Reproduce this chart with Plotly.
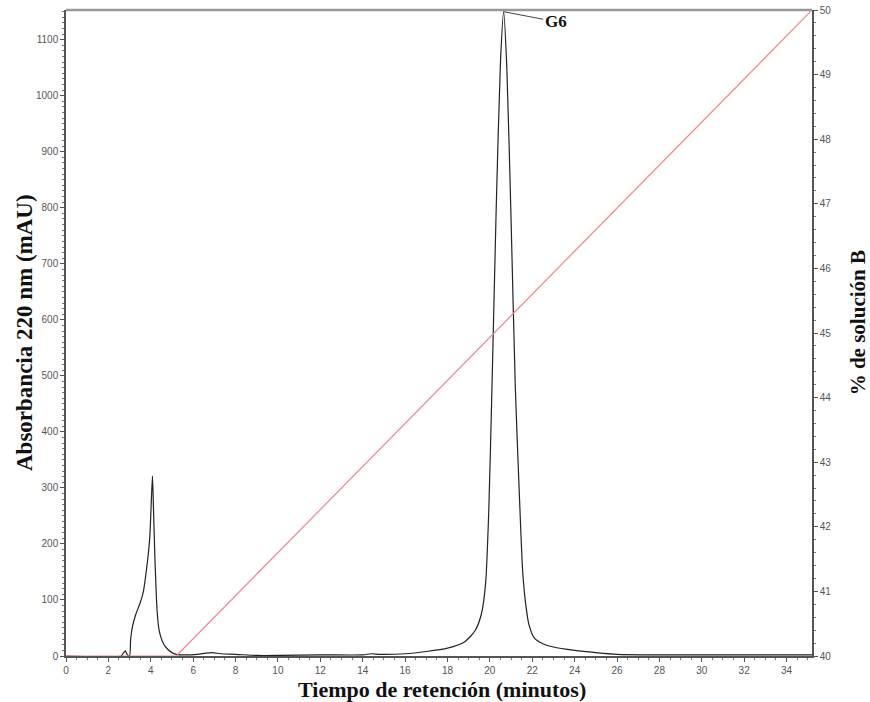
import plotly.graph_objects as go

# Chromatogram (time in minutes, absorbance in mAU)
time_min = [0, 2.6, 2.72, 2.8, 2.88, 3.0, 3.05, 3.15, 3.3, 3.5, 3.65, 3.8, 3.95, 4.03, 4.08,
            4.13, 4.2, 4.3, 4.4, 4.6, 4.8, 5.0, 5.2, 5.6, 6.2, 6.6, 6.9, 7.3, 8.0, 9.0,
            10.0, 12.0, 14.0, 14.4, 14.8, 16.0, 17.0, 18.0, 18.8, 19.3, 19.6, 19.8, 19.95,
            20.1, 20.3, 20.5, 20.65, 20.8, 21.0, 21.2, 21.4, 21.55, 21.7, 21.85, 22.1,
            22.5, 23.0, 24.0, 25.0, 26.0, 28.0, 30.0, 35.2]
absorbance = [0, 0, 6, 9, 3, 0, 30, 55, 75, 95, 115, 155, 210, 280, 321,
              260, 170, 80, 45, 22, 12, 6, 3, 2, 3, 5, 6, 4, 3, 1,
              1, 2, 2, 4, 3, 4, 8, 14, 25, 45, 75, 130, 260,
              480, 800, 1060, 1150, 1050, 780, 480, 280, 150, 90, 55, 32,
              22, 16, 10, 6, 3, 2, 2, 2]

# Gradient (% solution B)
grad_time = [0, 5.2, 35.2]
grad_b = [40, 40, 50]

peak_label = "G6"
peak_time = 20.65
peak_value = 1150

x_ticks = list(range(0, 35, 2))
y_ticks = list(range(0, 1101, 100))
y2_ticks = list(range(40, 51))

x_title = "Tiempo de retención (minutos)"
y_title = "Absorbancia 220 nm (mAU)"
y2_title = "% de solución B"

fig = go.Figure()
fig.add_trace(go.Scatter(x=time_min, y=absorbance, mode="lines",
                         line=dict(color="#222222", width=1.2, shape="spline", smoothing=0.6),
                         showlegend=False, yaxis="y"))
fig.add_trace(go.Scatter(x=grad_time, y=grad_b, mode="lines",
                         line=dict(color="#f08585", width=1.2),
                         showlegend=False, yaxis="y2"))

fig.add_annotation(x=peak_time, y=peak_value, xref="x", yref="y",
                   text="<b>" + peak_label + "</b>", showarrow=True, arrowhead=0,
                   arrowwidth=1, arrowcolor="#444444", ax=52, ay=10, xanchor="center",
                   font=dict(family="Liberation Serif", size=17, color="#111111"))

serif = "Liberation Serif"
fig.add_annotation(xref="paper", yref="paper", x=0, y=0.5, xshift=-42, showarrow=False,
                   textangle=-90, xanchor="center", yanchor="middle",
                   text="<b>" + y_title + "</b>", font=dict(family=serif, size=23, color="#111111"))
fig.add_annotation(xref="paper", yref="paper", x=1, y=0.515, xshift=46, showarrow=False,
                   textangle=-90, xanchor="center", yanchor="middle",
                   text="<b>" + y2_title + "</b>", font=dict(family=serif, size=21, color="#111111"))
fig.add_annotation(xref="paper", yref="paper", x=0.504, y=0, yshift=-33, showarrow=False,
                   xanchor="center", yanchor="middle",
                   text="<b>" + x_title + "</b>", font=dict(family=serif, size=22, color="#111111"))

tickfont = dict(family="Liberation Sans", size=10, color="#555555")

fig.update_layout(
    width=870, height=702,
    margin=dict(l=66, r=58, t=10, b=46, autoexpand=False),
    paper_bgcolor="white", plot_bgcolor="white",
    xaxis=dict(range=[0, 35.2], tickvals=x_ticks, ticks="outside", ticklen=4,
               tickcolor="#555555", showgrid=False, zeroline=False, automargin=False,
               showline=True, linecolor="#555555", linewidth=1.5, mirror=False,
               tickfont=tickfont,
               minor=dict(dtick=0.5, ticks="outside", ticklen=2, tickcolor="#777777")),
    yaxis=dict(range=[0, 1153], tickvals=y_ticks, ticks="outside", ticklen=4,
               tickcolor="#555555", showgrid=False, zeroline=False, automargin=False,
               showline=True, linecolor="#555555", linewidth=1.5,
               tickfont=tickfont,
               minor=dict(dtick=10, ticks="outside", ticklen=2, tickcolor="#777777")),
    yaxis2=dict(range=[40, 50], tickvals=y2_ticks, overlaying="y", side="right",
                ticks="outside", ticklen=4, tickcolor="#555555", showgrid=False, zeroline=False,
                automargin=False,
                showline=True, linecolor="#555555", linewidth=1.5,
                tickfont=tickfont,
                minor=dict(dtick=0.2, ticks="outside", ticklen=2, tickcolor="#777777")),
    shapes=[dict(type="line", xref="paper", yref="paper", x0=0, x1=1, y0=1, y1=1,
                 line=dict(color="#999999", width=2.5))],
)

fig.write_html("out.html")
